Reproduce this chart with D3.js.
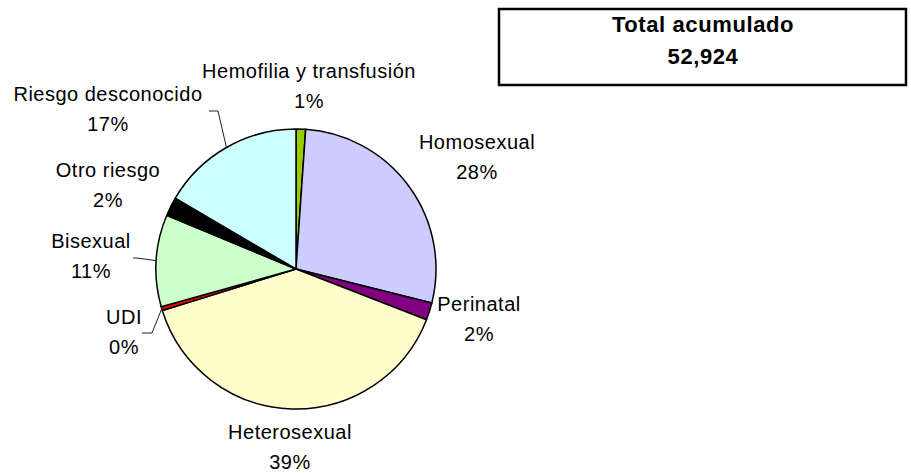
<!DOCTYPE html>
<html lang="es">
<head>
  <meta charset="UTF-8">
  <title>Categoría de transmisión</title>
  <style>
    body { margin: 0; background: #fff; }
    text { font-family: "Liberation Sans", Arial, sans-serif; }
  </style>
</head>
<body>
  <svg id="pie" width="911" height="473"></svg>

  <script src="https://d3js.org/d3.v7.min.js"></script>
  <script>
    // data, clockwise from 12 o'clock
    const categories = ["Hemofilia y transfusión", "Homosexual", "Perinatal", "Heterosexual",
                        "UDI", "Bisexual", "Otro riesgo", "Riesgo desconocido"];
    const shares = [1.1, 27.8, 2.0, 39.3, 0.45, 10.6, 2.2, 16.55];
    const total = "52,924";

    const colors = ["#99cc00", "#ccccff", "#800080", "#ffffcc", "#ff0000", "#ccffcc", "#000000", "#ccffff"];

    // label layout: centre x, first baseline, and whether a leader line is drawn
    const labelLayout = {
      "Hemofilia y transfusión": { x: 309, y: 78 },
      "Homosexual": { x: 477, y: 149 },
      "Perinatal": { x: 479, y: 311 },
      "Heterosexual": { x: 290, y: 439 },
      "UDI": { x: 124, y: 324, leader: { x: 142, y: 333, run: 10 } },
      "Bisexual": { x: 91, y: 248, leader: { x: 133, y: 258, run: 4 } },
      "Otro riesgo": { x: 108, y: 177 },
      "Riesgo desconocido": { x: 108, y: 101, leader: { x: 209, y: 111, run: 9 } }
    };

    const svg = d3.select("#pie");
    const cx = 296, cy = 269, radius = 140;

    const pie = d3.pie().sort(null).value(d => d.value);
    const arcs = pie(categories.map((c, i) => ({ name: c, value: shares[i], color: colors[i] })));
    const sum = d3.sum(shares);
    const pct = v => Math.round(v / sum * 100) + "%";

    const arc = d3.arc().innerRadius(0).outerRadius(radius);

    const g = svg.append("g").attr("transform", `translate(${cx},${cy})`);

    g.selectAll("path")
      .data(arcs)
      .join("path")
      .attr("d", arc)
      .attr("fill", d => d.data.color)
      .attr("stroke", "#000")
      .attr("stroke-width", 1.5)
      .attr("stroke-linejoin", "round");

    // leader lines from label to slice edge at mid angle
    arcs.forEach(d => {
      const lay = labelLayout[d.data.name];
      if (!lay.leader) return;
      const mid = (d.startAngle + d.endAngle) / 2;
      const ex = cx + radius * Math.sin(mid), ey = cy - radius * Math.cos(mid);
      const l = lay.leader;
      svg.append("polyline")
        .attr("points", [[l.x, l.y], [l.x + l.run, l.y], [ex, ey]].map(p => p.join(",")).join(" "))
        .attr("fill", "none")
        .attr("stroke", "#222")
        .attr("stroke-width", 1);
    });

    const labels = svg.append("g")
      .attr("font-size", "20px")
      .attr("letter-spacing", "0.5px")
      .attr("fill", "#000")
      .attr("text-anchor", "middle");

    arcs.forEach(d => {
      const lay = labelLayout[d.data.name];
      const t = labels.append("text").attr("x", lay.x).attr("y", lay.y);
      t.append("tspan").attr("x", lay.x).text(d.data.name);
      t.append("tspan").attr("x", lay.x).attr("dy", 30).text(pct(d.data.value));
    });

    // total box
    svg.append("rect")
      .attr("x", 499).attr("y", 9)
      .attr("width", 407).attr("height", 76)
      .attr("fill", "#fff")
      .attr("stroke", "#000")
      .attr("stroke-width", 2.5);

    const tt = svg.append("text")
      .attr("x", 703).attr("y", 32)
      .attr("text-anchor", "middle")
      .attr("font-size", "22px")
      .attr("font-weight", "bold")
      .attr("letter-spacing", "0.6px");
    tt.append("tspan").attr("x", 703).text("Total acumulado");
    tt.append("tspan").attr("x", 703).attr("dy", 32).text(total);
  </script>
</body>
</html>
